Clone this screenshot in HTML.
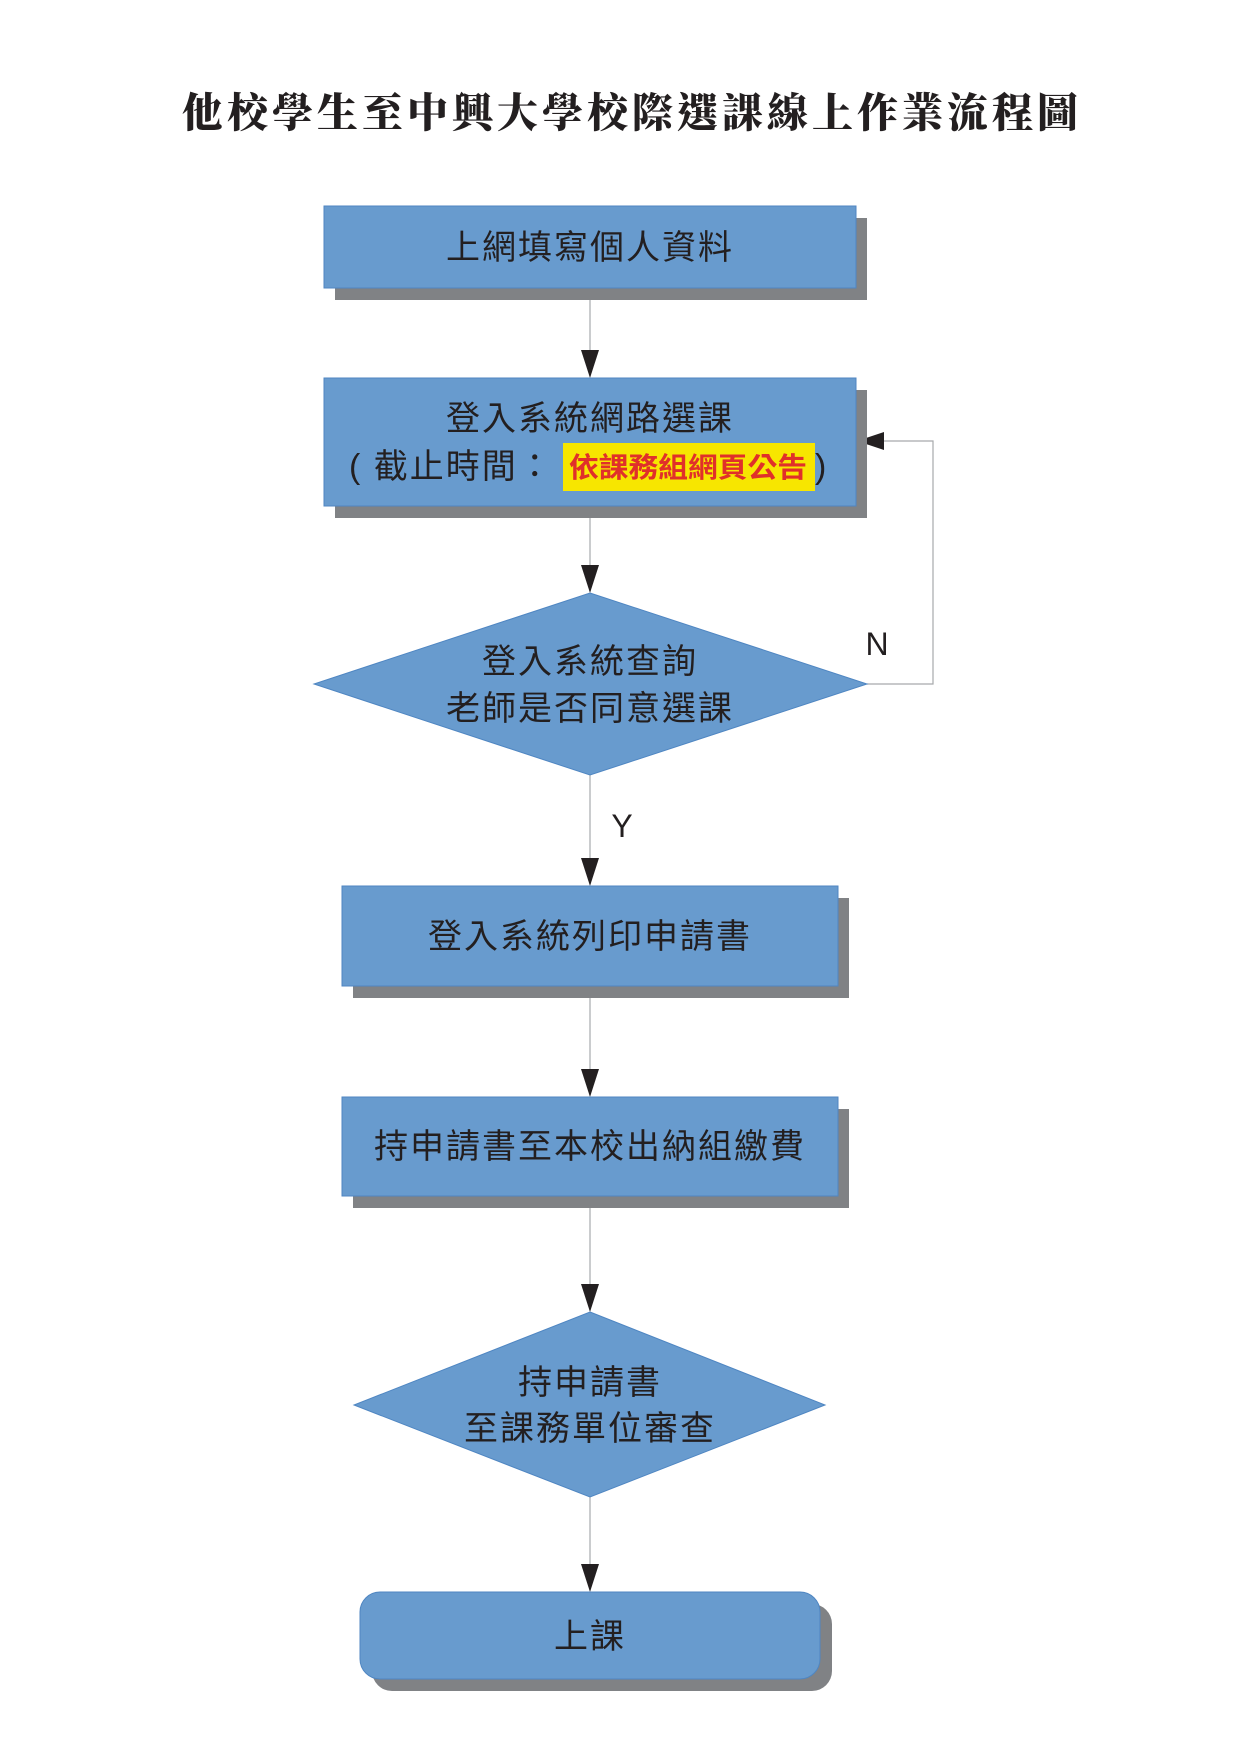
<!DOCTYPE html>
<html><head><meta charset="utf-8"><style>
html,body{margin:0;padding:0;background:#fff;}
svg{display:block}
text{font-family:"Liberation Sans","Noto Sans CJK TC",sans-serif;fill:#231f20;}
.t{font-size:34px;letter-spacing:2px;}
</style></head><body>
<svg width="1240" height="1754" viewBox="0 0 1240 1754" xmlns="http://www.w3.org/2000/svg">
<text x="632" y="127" text-anchor="middle" style="font-family:'Noto Serif CJK TC','Noto Serif CJK SC',serif;font-weight:900;font-size:41px;letter-spacing:4px;">他校學生至中興大學校際選課線上作業流程圖</text>

<g stroke="#a7a9ac" stroke-width="1.2" fill="none">
<line x1="590" y1="288" x2="590" y2="350"/>
<line x1="590" y1="506" x2="590" y2="565"/>
<line x1="590" y1="775" x2="590" y2="858"/>
<line x1="590" y1="986" x2="590" y2="1069"/>
<line x1="590" y1="1196" x2="590" y2="1284"/>
<line x1="590" y1="1497" x2="590" y2="1564"/>
<polyline points="867,684 933,684 933,441 884,441"/>
</g>
<g fill="#231f20">
<path d="M581,350 L599,350 L590,378 Z"/>
<path d="M581,565 L599,565 L590,593 Z"/>
<path d="M581,858 L599,858 L590,886 Z"/>
<path d="M581,1069 L599,1069 L590,1097 Z"/>
<path d="M581,1284 L599,1284 L590,1312 Z"/>
<path d="M581,1564 L599,1564 L590,1592 Z"/>
<path d="M857,441 L884,432 L884,450 Z"/>
</g>

<rect x="335" y="218" width="532" height="82" fill="#808285"/>
<rect x="324" y="206" width="532" height="82" fill="#689bce" stroke="#4f86c2" stroke-width="1"/>
<text x="590" y="259" text-anchor="middle" class="t">上網填寫個人資料</text>

<rect x="335" y="390" width="532" height="128" fill="#808285"/>
<rect x="324" y="378" width="532" height="128" fill="#689bce" stroke="#4f86c2" stroke-width="1"/>
<text x="590" y="430" text-anchor="middle" class="t">登入系統網路選課</text>
<rect x="563" y="443" width="252" height="48" fill="#f7e600"/>
<text x="349" y="478" class="t">( 截止時間：</text>
<text x="569" y="477" font-size="28" style="fill:#e0302a;font-weight:bold;" textLength="238" lengthAdjust="spacingAndGlyphs">依課務組網頁公告</text>
<text x="815" y="478" font-size="34">)</text>

<polygon points="590,593 867,684 590,775 314,684" fill="#689bce" stroke="#4f86c2" stroke-width="1"/>
<text x="590" y="673" text-anchor="middle" class="t">登入系統查詢</text>
<text x="590" y="720" text-anchor="middle" class="t">老師是否同意選課</text>
<text x="877" y="655" text-anchor="middle" font-size="32">N</text>
<text x="622" y="837" text-anchor="middle" font-size="32">Y</text>

<rect x="353" y="898" width="496" height="100" fill="#808285"/>
<rect x="342" y="886" width="496" height="100" fill="#689bce" stroke="#4f86c2" stroke-width="1"/>
<text x="590" y="948" text-anchor="middle" class="t">登入系統列印申請書</text>

<rect x="353" y="1109" width="496" height="99" fill="#808285"/>
<rect x="342" y="1097" width="496" height="99" fill="#689bce" stroke="#4f86c2" stroke-width="1"/>
<text x="590" y="1158" text-anchor="middle" class="t">持申請書至本校出納組繳費</text>

<polygon points="590,1312 825,1405 590,1497 354,1405" fill="#689bce" stroke="#4f86c2" stroke-width="1"/>
<text x="590" y="1394" text-anchor="middle" class="t">持申請書</text>
<text x="590" y="1440" text-anchor="middle" class="t">至課務單位審查</text>

<rect x="372" y="1604" width="460" height="87" rx="20" fill="#808285"/>
<rect x="360" y="1592" width="460" height="87" rx="20" fill="#689bce" stroke="#4f86c2" stroke-width="1"/>
<text x="590" y="1648" text-anchor="middle" class="t">上課</text>
</svg>
</body></html>
